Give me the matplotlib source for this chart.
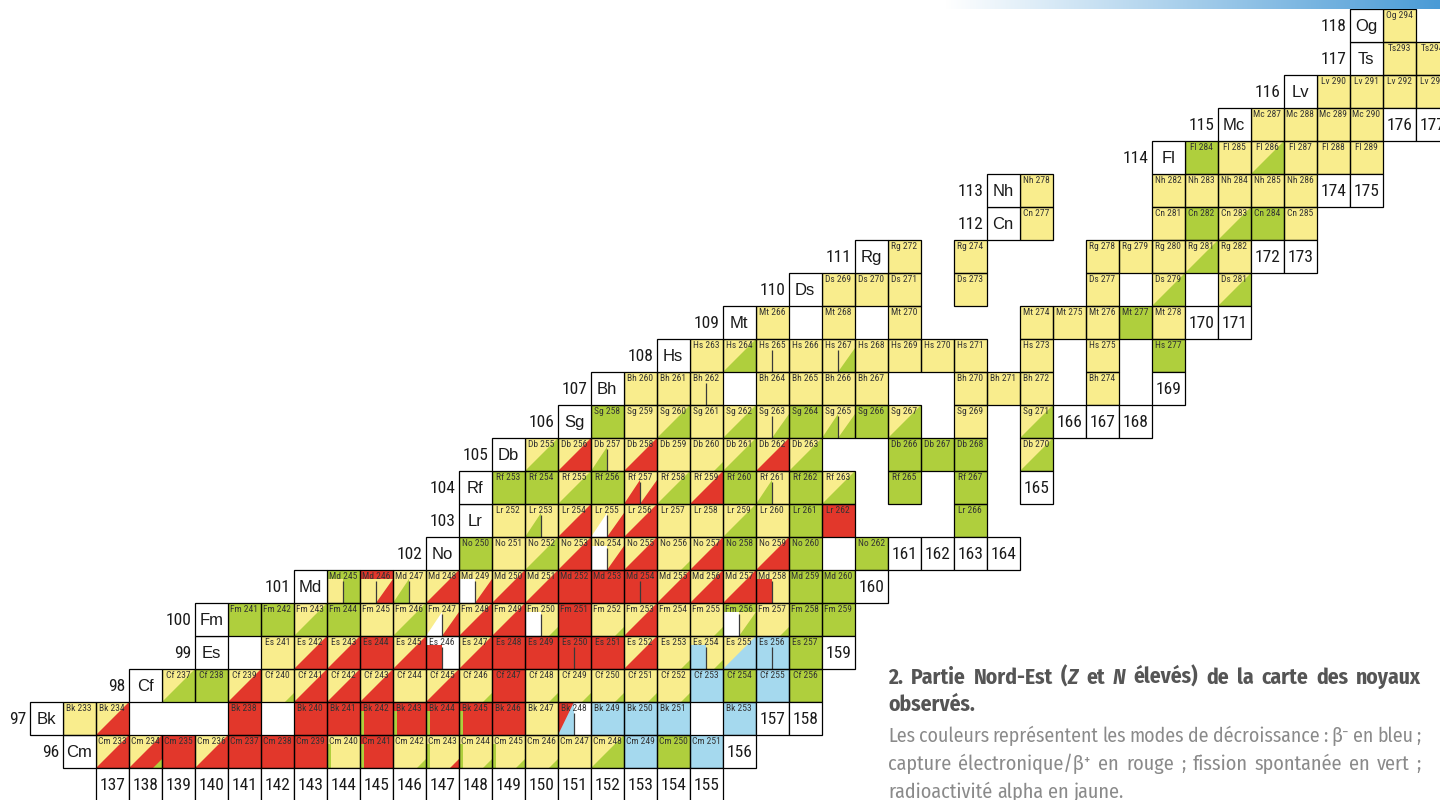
import matplotlib
matplotlib.use("Agg")
import matplotlib.pyplot as plt
from matplotlib.patches import Rectangle, Polygon
from matplotlib.colors import LinearSegmentedColormap
from matplotlib import font_manager
import numpy as np

# ---------------- data ----------------
# decay-mode codes: first letter = main colour, capital letter after = lower-right
# diagonal half, small letter = small lower-right corner; "T:" = colour of label band,
# "A|B" = isomer split in two halves, "A!B" = narrow isomer strip on the left.
element_symbols = ["Cm", "Bk", "Cf", "Es", "Fm", "Md", "No", "Lr", "Rf", "Db", "Sg", "Bh",
                   "Hs", "Mt", "Ds", "Rg", "Cn", "Nh", "Fl", "Mc", "Lv", "Ts", "Og"]
z_values = list(range(96, 119))
first_n = [137, 136, 139, 141, 141, 144, 148, 149, 149, 150, 152, 153,
           155, 157, 159, 161, 165, 165, 170, 172, 174, 176, 176]

row_cm = ["YR", "YRg", "R", "YR", "R", "R", "R", "Y:G!Y", "R:G!R", "Yg", "Y:G!Yr", "Y:G!Yg",
          "Y:G!Yg", "Yg", "Y", "YG", "B", "G", "B"]
row_bk = ["Y", "YR", "", "", "", "R", "", "R", "R", "R:G!R", "R:G!R", "R:G!R", "R:G!R", "R",
          "Y", "RB|W", "B", "B", "B", "", "B"]
row_cf = ["YG", "G", "YR", "Yg", "YR", "YR", "YR", "Y", "YR", "Yg", "R", "Yg", "Yg", "Yg",
          "Yg", "Yg", "B", "G", "B", "G"]
row_es = ["", "Y", "YR", "YR", "R", "YR", "W:R|W", "YR", "R", "R", "R|R", "R", "YR", "Yg",
          "Y:B|Yg", "YB", "B|B", "G"]
row_fm = ["G", "G", "YG", "G", "Y", "YG", "Y:YW|YR", "YR", "YR", "Y:W|Yg", "R", "Yg", "YR",
          "Y", "Yg", "G:W|YG", "Yg", "G", "G"]
row_md = ["G:Y|G", "R:Y|YR", "Y:YG|Y", "YR", "Y:W|YR", "YR", "YR", "R", "R", "R|R", "YR",
          "YR", "YR", "Y:R|Y", "G", "G"]
row_no = ["G", "Y", "YG", "YR", "Y:W|YR", "YR", "Yg", "YR", "G", "YR", "G", "", "G"]
row_lr = ["Y", "Y:YG|Y", "YR", "Y:YW|YR", "YR", "Y", "Y", "YG", "Y", "G", "R", "", "", "", "G"]
row_rf = ["G", "G", "YG", "G", "Y:YR|YR", "YG", "YR", "G", "Y:YG|Y", "G", "YG", "", "G", "", "G"]
row_db = ["YG", "YR", "Y:YG|Y", "YR", "Y", "Yg", "YG", "YR", "YG", "", "", "G", "G", "G", "", "YG"]
row_sg = ["G", "Y", "YG", "Y", "YG", "Y:Y|YG", "G", "Y:YG|YG", "G", "YG", "", "Y", "", "YG"]
row_bh = ["Y", "Y", "Y|Y", "", "Y", "Y", "Y", "Y", "", "", "Y", "Y", "Y", "", "Y"]
row_hs = ["Y", "YG", "Y|Y", "Y", "Y:Y|YG", "Y", "Y", "Y", "Y", "", "Y", "", "Y", "", "G"]
row_mt = ["Y", "", "Y", "", "Y", "", "", "", "Y", "Y", "Y", "G", "Y"]
row_ds = ["Y", "Y", "Y", "", "Y", "", "", "", "Y", "", "YG", "", "YG"]
row_rg = ["Y", "", "Y", "", "", "", "Y", "Y", "Y", "YG", "Y"]
row_cn = ["Y", "", "", "", "Y", "G", "YG", "G", "Y"]
row_nh = ["Y", "", "", "", "Y", "Y", "Y", "Y", "Y"]
row_fl = ["G", "Y", "YG", "Y", "Y", "Y"]
row_mc = ["Y", "Y", "Y", "Y"]
row_lv = ["Y", "Y", "Y", "Y"]
row_ts = ["Y", "Y"]
row_og = ["Y"]
decay_rows = [row_cm, row_bk, row_cf, row_es, row_fm, row_md, row_no, row_lr, row_rf, row_db,
              row_sg, row_bh, row_hs, row_mt, row_ds, row_rg, row_cn, row_nh, row_fl, row_mc,
              row_lv, row_ts, row_og]
label_separator = {"Ts": ""}

n_axis_labels = list(range(137, 156))
end_label_z = [96, 97, 97, 99, 101, 102, 102, 102, 102, 104, 106, 106, 106, 107,
               109, 109, 111, 111, 113, 113, 115, 115]
end_label_n = [156, 157, 158, 159, 160, 161, 162, 163, 164, 165, 166, 167, 168, 169,
               170, 171, 172, 173, 174, 175, 176, 177]

title_lines = ["2. Partie Nord-Est (*Z* et *N* élevés) de la carte des noyaux", "observés."]
caption_lines = ["Les couleurs représentent les modes de décroissance : β⁻ en bleu ;",
                 "capture électronique/β⁺ en rouge ; fission spontanée en vert ;",
                 "radioactivité alpha en jaune."]

COL = {"Y": "#f9ed8d", "G": "#afcf3d", "R": "#e2372b", "B": "#a5d9ee", "W": "#ffffff"}

# ---------------- fonts ----------------
available = {f.name for f in font_manager.fontManager.ttflist}


def pick(cands):
    for c in cands:
        if c in available:
            return c
    return "DejaVu Sans"


NARROW = pick(["Liberation Sans Narrow", "Arial Narrow", "Roboto Condensed",
               "Archivo Narrow", "Liberation Sans"])
CAPTION = pick(["Fira Sans Condensed", "Roboto Condensed", "Archivo Narrow", "Liberation Sans"])
SANS = pick(["Liberation Sans", "Arial", "Roboto"])

# ---------------- figure ----------------
W, H = 1440, 800
fig = plt.figure(figsize=(W / 100, H / 100), dpi=100)
ax = fig.add_axes([0, 0, 1, 1])
CELL_PX = 33.0
x_left = 137 - 95.7 / CELL_PX
y_bottom = 97 - (H - 735.3) / CELL_PX
ax.set_xlim(x_left, x_left + W / CELL_PX)
ax.set_ylim(y_bottom, y_bottom + H / CELL_PX)
ax.axis("off")

BAND = 0.27
LW = 0.9


def fill_spec(x0, y0, w, h, spec):
    if not spec:
        return
    ax.add_patch(Rectangle((x0, y0), w, h, fc=COL[spec[0]], ec="none", lw=0, zorder=1))
    for ch in spec[1:]:
        if ch.isupper():
            poly = [(x0, y0), (x0 + w, y0), (x0 + w, y0 + h)]
        else:
            f = 0.27
            poly = [(x0 + w - f, y0), (x0 + w, y0), (x0 + w, y0 + f)]
        ax.add_patch(Polygon(poly, closed=True, fc=COL[ch.upper()], ec="none", lw=0, zorder=2))


def draw_cell(n, z, code):
    top = None
    if ":" in code:
        top, code = code.split(":")
    if "|" in code or "!" in code:
        sep = "|" if "|" in code else "!"
        left, right = code.split(sep)
        frac = 0.5 if sep == "|" else 0.13
        hh = 1 - BAND if top else 1
        if top:
            ax.add_patch(Rectangle((n, z + hh), 1, BAND, fc=COL[top], ec="none", zorder=1))
        fill_spec(n, z, frac, hh, left)
        fill_spec(n + frac, z, 1 - frac, hh, right)
        if sep == "|":
            ax.plot([n + frac, n + frac], [z, z + 0.68], color="#3a3a3a", lw=0.9, zorder=3,
                    solid_capstyle="butt")
    else:
        fill_spec(n, z, 1, 1, code)
    ax.add_patch(Rectangle((n, z), 1, 1, fc="none", ec="black", lw=LW, zorder=5))


def box(n, z, txt, font, size, ha="center", dx=0.5):
    ax.add_patch(Rectangle((n, z), 1, 1, fc="white", ec="black", lw=LW, zorder=5))
    ax.text(n + dx, z + 0.47, txt, ha=ha, va="center", fontsize=size, family=font,
            color="#1a1a1a", zorder=6)


for z, sym, n0, row in zip(z_values, element_symbols, first_n, decay_rows):
    for i, code in enumerate(row):
        if not code:
            continue
        n = n0 + i
        draw_cell(n, z, code)
        sepl = label_separator.get(sym, " ")
        ax.text(n + 0.5, z + 0.82, f"{sym}{sepl}{z + n}", ha="center", va="center",
                fontsize=6.8, family=NARROW, color="#333333", zorder=6)
    bn = n0 - 1
    box(bn, z, sym, SANS, 12)
    ax.text(bn - 0.1, z + 0.47, str(z), ha="right", va="center", fontsize=12.5,
            family=NARROW, color="#1a1a1a", zorder=6)

for n in n_axis_labels:
    box(n, 95, str(n), NARROW, 12.5)
for z, n in zip(end_label_z, end_label_n):
    box(n, z, str(n), NARROW, 12.5)

# ---------------- gradient band ----------------
gax = fig.add_axes([945 / W, 1 - 8.7 / H, (W - 945) / W, 8.7 / H])
cmap = LinearSegmentedColormap.from_list("band", ["#ffffff", "#4a9bd6"])
gax.imshow(np.linspace(0, 1, 256)[None, :], aspect="auto", cmap=cmap, extent=[0, 1, 0, 1])
gax.axis("off")

# ---------------- caption ----------------
renderer = fig.canvas.get_renderer()


def parse_words(line):
    words = []
    for w in line.split(" "):
        pieces = []
        parts = w.split("*")
        for k, p in enumerate(parts):
            if p:
                pieces.append((p, "italic" if k % 2 == 1 else "normal"))
        words.append(pieces)
    return words


def text_w(txt, style, **kw):
    t = fig.text(0, 0, txt, fontstyle=style, **kw)
    w = t.get_window_extent(renderer).width
    t.remove()
    return w


def draw_line(line, x0, x1, ybase, justify, **kw):
    words = parse_words(line)
    kw = dict(kw)
    while True:
        widths = [sum(text_w(p, s, **kw) for p, s in wd) for wd in words]
        space = text_w("a a", "normal", **kw) - text_w("aa", "normal", **kw)
        if sum(widths) + 0.8 * space * (len(words) - 1) <= x1 - x0 or kw["fontsize"] < 8:
            break
        kw["fontsize"] -= 0.25
    gap = (x1 - x0 - sum(widths)) / (len(words) - 1) if justify else space
    x = x0
    for wd, wdw in zip(words, widths):
        xx = x
        for p, s in wd:
            t = fig.text(xx / W, 1 - ybase / H, p, fontstyle=s, ha="left", va="baseline", **kw)
            xx += t.get_window_extent(renderer).width
        x += wdw + gap


TX0, TX1 = 888, 1421
title_kw = dict(fontsize=15.5, fontweight="bold", family=[CAPTION, "DejaVu Sans"], color="#555555")
body_kw = dict(fontsize=14.5, family=[CAPTION, "DejaVu Sans"], color="#8a8a8a")
draw_line(title_lines[0], TX0, TX1, 684, True, **title_kw)
draw_line(title_lines[1], TX0, TX1, 711, False, **title_kw)
draw_line(caption_lines[0], TX0, TX1, 742, True, **body_kw)
draw_line(caption_lines[1], TX0, TX1, 770, True, **body_kw)
draw_line(caption_lines[2], TX0, TX1, 798, False, **body_kw)

fig.savefig("out.png", dpi=100)
